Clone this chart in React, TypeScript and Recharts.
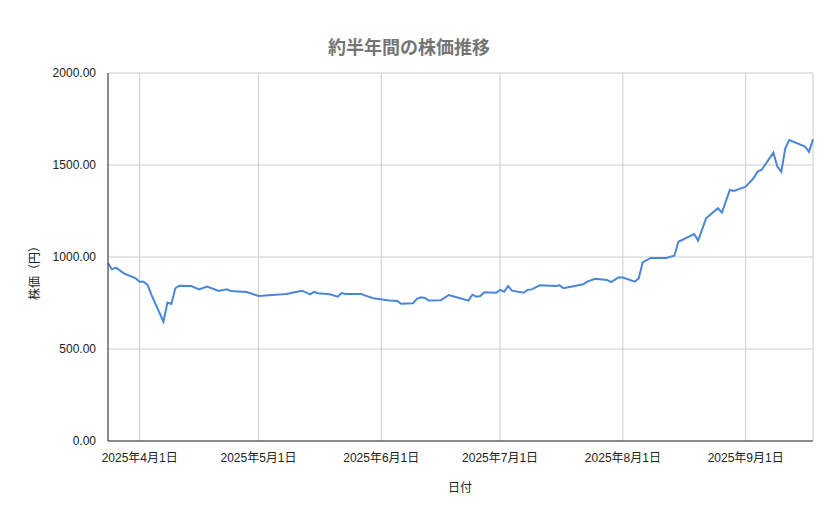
import React from "react";
import {
    LineChart,
    Line,
    XAxis,
    YAxis,
    CartesianGrid,
} from "recharts";

// 日付と終値
const dates: string[] = [
    "2025-03-24", "2025-03-25", "2025-03-26", "2025-03-28", "2025-03-31",
    "2025-04-01", "2025-04-02", "2025-04-03", "2025-04-04", "2025-04-07",
    "2025-04-08", "2025-04-09", "2025-04-10", "2025-04-11", "2025-04-14",
    "2025-04-16", "2025-04-18", "2025-04-21", "2025-04-23", "2025-04-24",
    "2025-04-28", "2025-05-01", "2025-05-02", "2025-05-07", "2025-05-08",
    "2025-05-12", "2025-05-14", "2025-05-15", "2025-05-16", "2025-05-19",
    "2025-05-21", "2025-05-22", "2025-05-23", "2025-05-27", "2025-05-28",
    "2025-05-30", "2025-06-03", "2025-06-05", "2025-06-06", "2025-06-09",
    "2025-06-10", "2025-06-11", "2025-06-12", "2025-06-13", "2025-06-16",
    "2025-06-18", "2025-06-20", "2025-06-23", "2025-06-24", "2025-06-25",
    "2025-06-26", "2025-06-27", "2025-06-30", "2025-07-01", "2025-07-02",
    "2025-07-03", "2025-07-04", "2025-07-07", "2025-07-08", "2025-07-09",
    "2025-07-11", "2025-07-15", "2025-07-16", "2025-07-17", "2025-07-22",
    "2025-07-23", "2025-07-25", "2025-07-28", "2025-07-29", "2025-07-31",
    "2025-08-01", "2025-08-04", "2025-08-05", "2025-08-06", "2025-08-08",
    "2025-08-12", "2025-08-13", "2025-08-14", "2025-08-15", "2025-08-19",
    "2025-08-20", "2025-08-22", "2025-08-25", "2025-08-26", "2025-08-28",
    "2025-08-29", "2025-09-01", "2025-09-03", "2025-09-04", "2025-09-05",
    "2025-09-08", "2025-09-09", "2025-09-10", "2025-09-11", "2025-09-12",
    "2025-09-16", "2025-09-17", "2025-09-18",
];

const prices: number[] = [
    966, 933, 942, 911, 884,
    866, 866, 848, 793, 648,
    752, 745, 830, 844, 842,
    824, 839, 815, 824, 815,
    810, 788, 790, 797, 799,
    817, 797, 810, 803, 797,
    784, 804, 799, 799, 790,
    776, 763, 761, 746, 748,
    772, 781, 777, 763, 765,
    793, 781, 763, 795, 784,
    788, 808, 806, 821, 811,
    842, 817, 806, 822, 824,
    846, 842, 846, 830, 852,
    866, 882, 875, 863, 890,
    888, 866, 884, 971, 995,
    995, 1002, 1007, 1083, 1125,
    1089, 1210, 1265, 1241, 1364,
    1359, 1382, 1428, 1464, 1473,
    1567, 1491, 1464, 1591, 1636,
    1600, 1572, 1640,
];

const monthTicks: string[] = [
    "2025-04-01", "2025-05-01", "2025-06-01", "2025-07-01", "2025-08-01", "2025-09-01",
];
const yTicks: number[] = [0, 500, 1000, 1500, 2000];

const toTime = (s: string) => Date.parse(s + "T00:00:00Z");

const data = dates.map((d, i) => ({t: toTime(d), price: prices[i]}));

const fmtDate = (t: number) => {
    const d = new Date(t);
    return `${d.getUTCFullYear()}年${d.getUTCMonth() + 1}月${d.getUTCDate()}日`;
};

const font = "Arial, 'Liberation Sans', 'Noto Sans CJK JP', sans-serif";

const App = () => {
    return (
        <div style={{position: "fixed", left: 0, top: 0, width: 839, height: 519, background: "#fff", fontFamily: font}}>
            <div style={{
                position: "absolute", left: 0, width: 839, top: 33, textAlign: "center",
                fontSize: 18, fontWeight: "bold", color: "#757575", paddingRight: 21, boxSizing: "border-box",
            }}>
                約半年間の株価推移
            </div>
            <div style={{
                position: "absolute", left: 33, top: 270, transform: "translate(-50%, -50%) rotate(-90deg)",
                fontSize: 12, color: "#222", whiteSpace: "nowrap",
            }}>
                株価（円）
            </div>
            <div style={{
                position: "absolute", left: 460, top: 486, transform: "translate(-50%, -50%)",
                fontSize: 12, color: "#222",
            }}>
                日付
            </div>
            <LineChart
                width={839}
                height={519}
                data={data}
                margin={{top: 73, right: 26, bottom: 48, left: 48}}
            >
                <CartesianGrid stroke="#cccccc" strokeWidth={1}/>
                <XAxis
                    dataKey="t"
                    type="number"
                    scale="time"
                    domain={[toTime("2025-03-24"), toTime("2025-09-18")]}
                    ticks={monthTicks.map(toTime)}
                    tickFormatter={fmtDate}
                    tickLine={false}
                    axisLine={{stroke: "#333333"}}
                    tick={{fill: "#222", fontSize: 12, fontFamily: font}}
                    tickMargin={6}
                    height={30}
                    interval={0}
                />
                <YAxis
                    type="number"
                    domain={[0, 2000]}
                    ticks={yTicks}
                    tickFormatter={(v: number) => v.toFixed(2)}
                    tickLine={false}
                    axisLine={{stroke: "#333333"}}
                    tick={{fill: "#222", fontSize: 12, fontFamily: font}}
                    tickMargin={6}
                    width={60}
                    interval={0}
                />
                <Line
                    type="linear"
                    dataKey="price"
                    stroke="#4a86d8"
                    strokeWidth={2}
                    dot={false}
                    isAnimationActive={false}
                />
            </LineChart>
        </div>
    );
};

export default App;
